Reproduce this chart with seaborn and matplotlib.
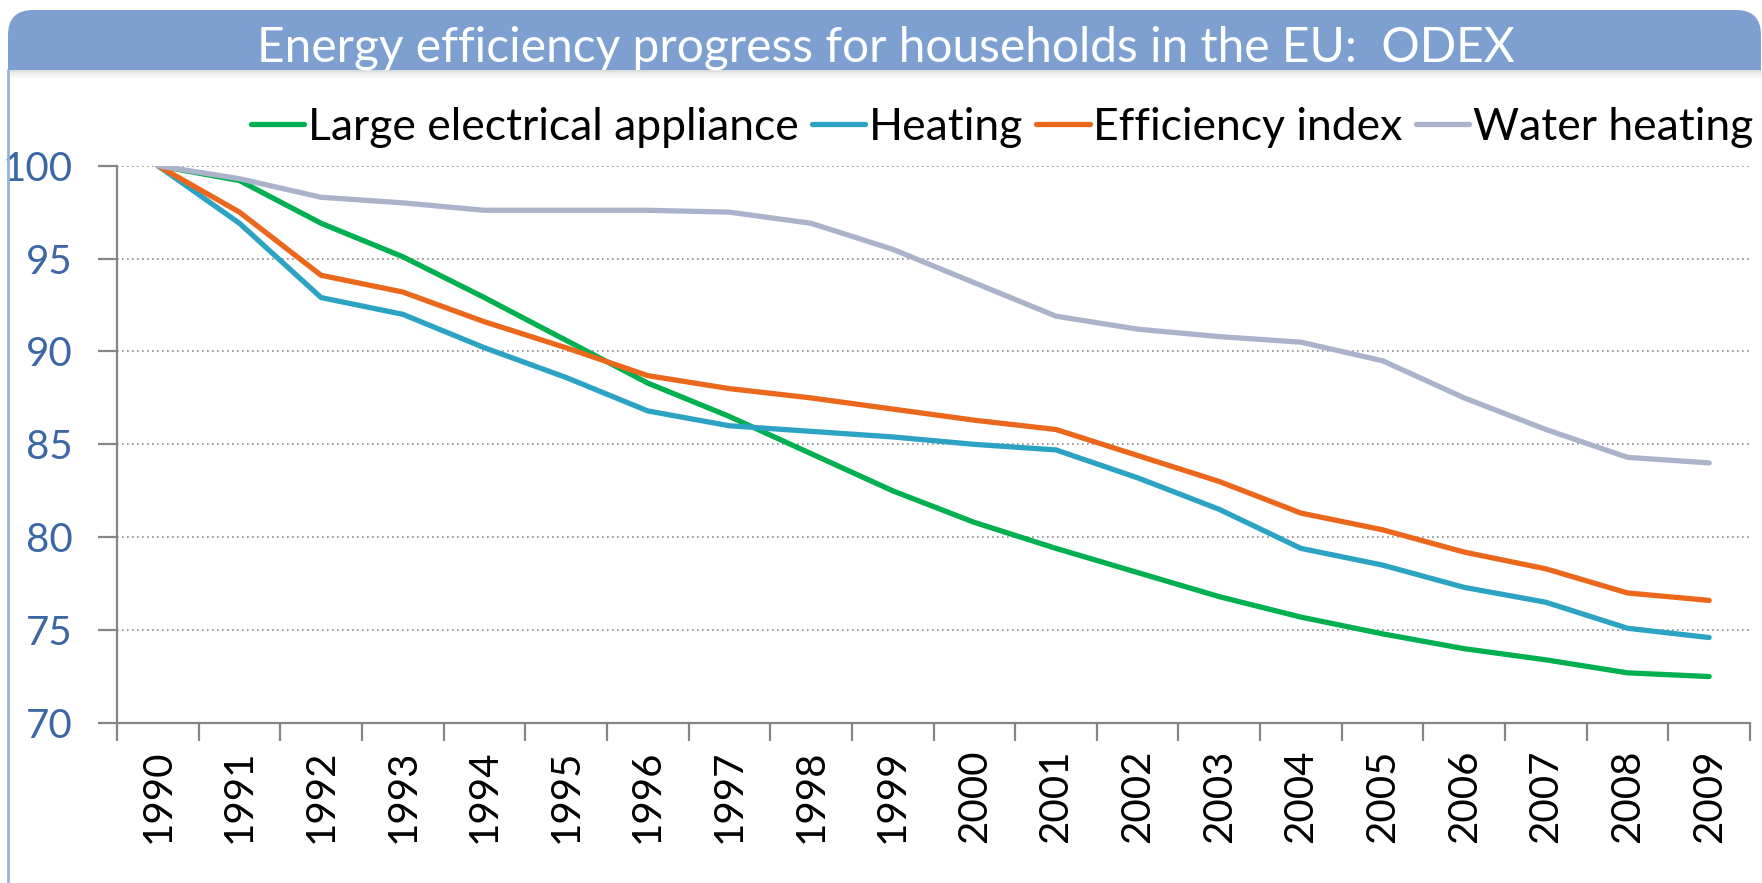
# Energy efficiency progress for households (ODEX) - line chart
import numpy as np
import pandas as pd
import seaborn as sns
import matplotlib.pyplot as plt
from matplotlib.patches import FancyBboxPatch, Rectangle
from matplotlib.lines import Line2D

# data
years = list(range(1990, 2010))
appliances = [100, 99.2, 96.9, 95.1, 92.9, 90.6, 88.3, 86.5, 84.5, 82.5,
              80.8, 79.4, 78.1, 76.8, 75.7, 74.8, 74.0, 73.4, 72.7, 72.5]
heating = [100, 96.9, 92.9, 92.0, 90.2, 88.6, 86.8, 86.0, 85.7, 85.4,
           85.0, 84.7, 83.2, 81.5, 79.4, 78.5, 77.3, 76.5, 75.1, 74.6]
efficiency = [100, 97.5, 94.1, 93.2, 91.6, 90.2, 88.7, 88.0, 87.5, 86.9,
              86.3, 85.8, 84.4, 83.0, 81.3, 80.4, 79.2, 78.3, 77.0, 76.6]
water = [100, 99.3, 98.3, 98.0, 97.6, 97.6, 97.6, 97.5, 96.9, 95.5,
         93.7, 91.9, 91.2, 90.8, 90.5, 89.5, 87.5, 85.8, 84.3, 84.0]

series_names = ['Large electrical appliance', 'Heating', 'Efficiency index', 'Water heating']
colors = ['#00B050', '#2CA3C3', '#EA671C', '#ABB3CB']
title = 'Energy efficiency progress for households in the EU:  ODEX'

# long format table for seaborn
df = pd.DataFrame({
    'year': years * 4,
    'value': appliances + heating + efficiency + water,
    'series': sum([[n] * len(years) for n in series_names], []),
})

sns.set_style('white')
plt.rcParams['font.family'] = ['Lato', 'DejaVu Sans']
plt.rcParams['text.color'] = 'black'

W, H = 1762, 883
fig = plt.figure(figsize=(W / 100, H / 100), dpi=100)

# helper: pixel box (top-left origin) -> inches for dpi_scale_trans
def px_box(x0, y0, x1, y1):
    return x0 / 100, (H - y1) / 100, (x1 - x0) / 100, (y1 - y0) / 100

# title bar with rounded top corners and a soft shadow
for i, a in enumerate([0.25, 0.15, 0.08, 0.04]):
    x, y, w, h = px_box(8, 70 + i * 2, 1762, 72 + i * 2)
    fig.add_artist(Rectangle((x, y), w, h, transform=fig.dpi_scale_trans,
                             facecolor='#7f7f7f', edgecolor='none', alpha=a))
x, y, w, h = px_box(8, 10, 1761, 70)
fig.add_artist(FancyBboxPatch((x, y), w, h, boxstyle='round,pad=0,rounding_size=0.25',
                              transform=fig.dpi_scale_trans, facecolor='#7EA0D1', edgecolor='none'))
x, y, w, h = px_box(8, 40, 1761, 70)
fig.add_artist(Rectangle((x, y), w, h, transform=fig.dpi_scale_trans,
                         facecolor='#7EA0D1', edgecolor='none'))
fig.text(886 / W, 1 - 62 / H, title, color='white', fontsize=34.5, ha='center', va='baseline')

# left border line
fig.add_artist(Line2D([8 / W, 8 / W], [0, 1 - 70 / H], transform=fig.transFigure,
                      color='#95B3D7', linewidth=2))

# plot area
ax = fig.add_axes([117 / W, 1 - 723 / H, (1750 - 117) / W, (723 - 165.7) / H])
sns.lineplot(data=df, x='year', y='value', hue='series', hue_order=series_names,
             palette=dict(zip(series_names, colors)), linewidth=3.8, ax=ax,
             solid_capstyle='round', solid_joinstyle='round')

ax.set_xlim(1989.5, 2009.5)
ax.set_ylim(70, 100)
ax.set_yticks(range(70, 101, 5))
ax.set_xticks(years)
ax.set_xticklabels([str(y) for y in years], rotation=90)
ax.set_xticks(np.arange(1989.5, 2010, 1), minor=True)
ax.set_xlabel('')
ax.set_ylabel('')

grey = '#868686'
for s in ['top', 'right']:
    ax.spines[s].set_visible(False)
for s in ['left', 'bottom']:
    ax.spines[s].set_color(grey)
    ax.spines[s].set_linewidth(1.6)

ax.yaxis.grid(True, linestyle=(0, (1, 2)), color='#8c8c8c', linewidth=1.2)
ax.xaxis.grid(False)
ax.tick_params(axis='y', length=14, width=1.6, color=grey, labelcolor='#3C67A5',
               labelsize=29, pad=18, left=True)
ax.tick_params(axis='x', which='major', length=0, labelsize=29, labelcolor='black', pad=19)
ax.tick_params(axis='x', which='minor', length=13, width=1.6, color=grey, bottom=True)

sns.move_legend(ax, 'center right', bbox_to_anchor=(1753 / W, 1 - 127 / H),
                bbox_transform=fig.transFigure, ncol=4, frameon=False, title=None,
                fontsize=32, handlelength=1.2, handletextpad=0.08, columnspacing=0.3,
                borderpad=0, borderaxespad=0, labelcolor='black')

fig.savefig('out.png', dpi=100)
